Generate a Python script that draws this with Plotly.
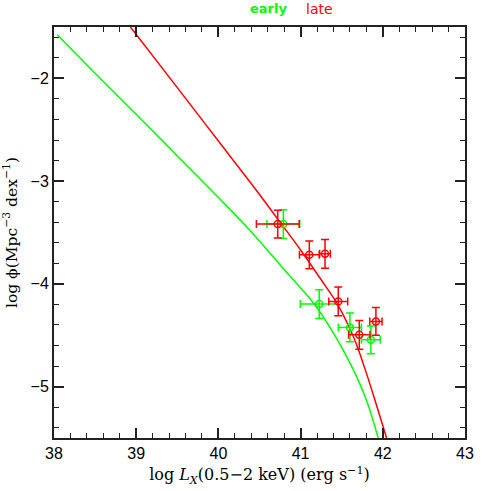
import plotly.graph_objects as go

# Model curves (log Lx, log phi)
early_curve_x = [38.04, 38.5, 39.0, 39.5, 40.0, 40.385, 40.8, 41.17, 41.4, 41.62, 41.8, 41.944]
early_curve_y = [-1.575, -1.95, -2.35, -2.755, -3.16, -3.48, -3.86, -4.20, -4.48, -4.80, -5.13, -5.5]
late_curve_x = [38.93, 39.5, 40.0, 40.5, 40.75, 41.0, 41.25, 41.45, 41.65, 41.78, 41.904, 42.046]
late_curve_y = [-1.5, -2.09, -2.61, -3.13, -3.40, -3.67, -3.96, -4.20, -4.53, -4.82, -5.13, -5.5]

# Binned data points
early_x = [40.79, 41.227, 41.60, 41.855]
early_y = [-3.418, -4.197, -4.424, -4.544]
early_xerr = [0.20, 0.23, 0.14, 0.115]
early_yerr = [0.14, 0.14, 0.14, 0.135]

late_x = [40.722, 41.106, 41.297, 41.458, 41.714, 41.916]
late_y = [-3.418, -3.717, -3.707, -4.171, -4.496, -4.366]
late_xerr = [0.26, 0.12, 0.065, 0.115, 0.13, 0.075]
late_yerr = [0.135, 0.135, 0.14, 0.14, 0.14, 0.135]

GREEN = "#00ff00"
RED = "#ff0000"

fig = go.Figure()
fig.add_trace(go.Scatter(x=early_curve_x, y=early_curve_y, mode="lines",
                         line=dict(color=GREEN, width=1.5, shape="spline"), showlegend=False))
fig.add_trace(go.Scatter(x=late_curve_x, y=late_curve_y, mode="lines",
                         line=dict(color=RED, width=1.5, shape="spline"), showlegend=False))
fig.add_trace(go.Scatter(x=early_x, y=early_y, mode="markers",
                         marker=dict(symbol="circle-open", size=7, color=GREEN, line=dict(width=1.5)),
                         error_x=dict(type="data", array=early_xerr, color=GREEN, thickness=1.5, width=4),
                         error_y=dict(type="data", array=early_yerr, color=GREEN, thickness=1.5, width=4),
                         showlegend=False))
fig.add_trace(go.Scatter(x=late_x, y=late_y, mode="markers",
                         marker=dict(symbol="circle-open", size=7, color=RED, line=dict(width=1.5)),
                         error_x=dict(type="data", array=late_xerr, color=RED, thickness=1.5, width=4),
                         error_y=dict(type="data", array=late_yerr, color=RED, thickness=1.5, width=4),
                         showlegend=False))

axis_common = dict(showgrid=False, zeroline=False, showline=True, linecolor="#222222", linewidth=2,
                   mirror="allticks", ticks="inside", ticklen=10, tickwidth=1.5, tickcolor="#222222",
                   tickfont=dict(family="Liberation Sans, Arial, sans-serif", size=16, color="black"))

fig.update_xaxes(range=[38, 43], dtick=1, tick0=38,
                 minor=dict(dtick=0.2, ticks="inside", ticklen=5, tickwidth=1.2, tickcolor="#222222"),
                 title=dict(text="log <i>L</i><sub><i>X</i></sub>(0.5−2 keV) (erg s<sup>−1</sup>)",
                            font=dict(family="DejaVu Serif, serif", size=16, color="black"),
                            standoff=8),
                 **axis_common)
fig.update_yaxes(range=[-5.5, -1.5], dtick=1, tick0=-5,
                 minor=dict(dtick=0.2, ticks="inside", ticklen=5, tickwidth=1.2, tickcolor="#222222"),
                 title=dict(text="log ϕ(Mpc<sup>−3</sup> dex<sup>−1</sup>)",
                            font=dict(family="DejaVu Serif, serif", size=15.5, color="black"),
                            standoff=16),
                 **axis_common)

fig.add_annotation(text="<b>early</b>", x=0.522, y=1.045, xref="paper", yref="paper",
                   showarrow=False, xanchor="center", yanchor="middle",
                   font=dict(family="DejaVu Sans", size=13, color=GREEN))
fig.add_annotation(text="late", x=0.646, y=1.045, xref="paper", yref="paper",
                   showarrow=False, xanchor="center", yanchor="middle",
                   font=dict(family="DejaVu Sans", size=14, color=RED))

fig.update_layout(width=491, height=491, margin=dict(l=54, r=26, t=27, b=53, autoexpand=False),
                  plot_bgcolor="white", paper_bgcolor="white")

fig.write_html("out.html", config={"displayModeBar": False},
               post_script="document.body.style.margin='0px';document.body.style.overflow='hidden';")
